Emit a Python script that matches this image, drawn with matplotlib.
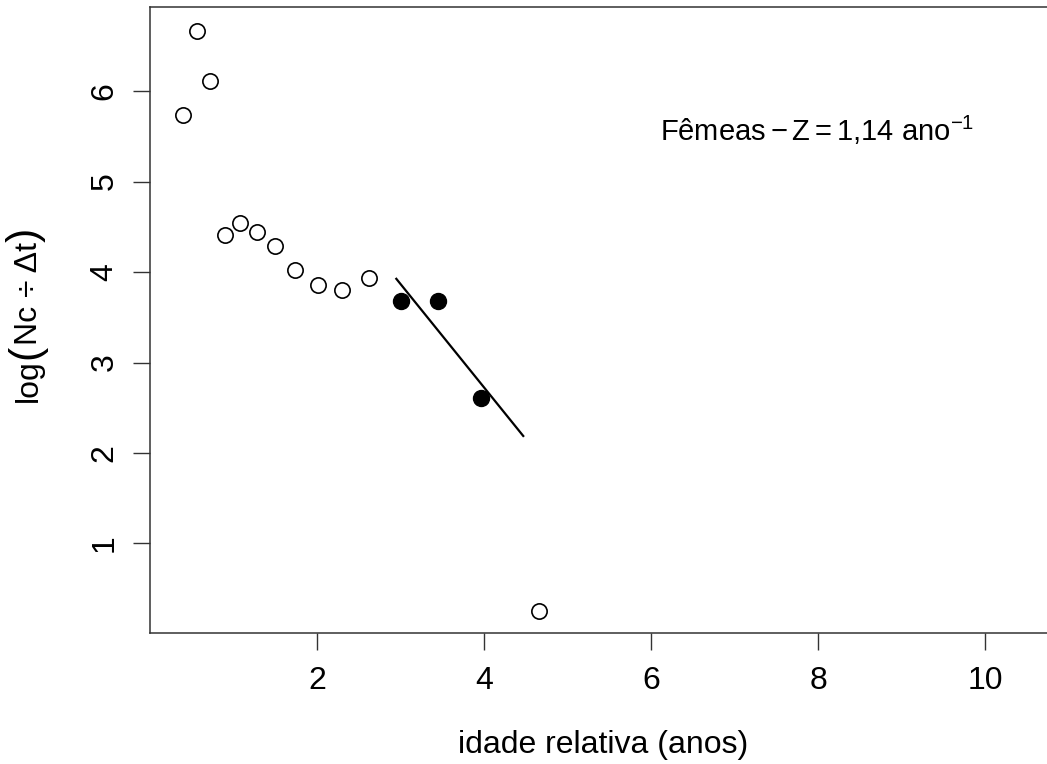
import numpy as np
import matplotlib
matplotlib.use('Agg')
import matplotlib.pyplot as plt

plt.rcParams['font.family'] = ['Liberation Sans', 'DejaVu Sans']
plt.rcParams['mathtext.fontset'] = 'custom'
plt.rcParams['mathtext.rm'] = 'Liberation Sans'
plt.rcParams['mathtext.it'] = 'Liberation Sans:italic'
plt.rcParams['mathtext.bf'] = 'Liberation Sans:bold'

# idade relativa (anos) e log(Nc / dt) - pontos fora da regressao
idade_aberto = [0.40, 0.56, 0.72, 0.90, 1.08, 1.28, 1.50, 1.74, 2.01, 2.30, 2.62, 4.66]
log_aberto = [5.74, 6.67, 6.11, 4.41, 4.54, 4.44, 4.29, 4.02, 3.86, 3.80, 3.93, 0.25]

# pontos usados na curva de captura
idade_cheio = [3.01, 3.45, 3.97]
log_cheio = [3.68, 3.68, 2.61]

# extensao da reta ajustada
reta_x = [2.95, 4.47]

coef = np.polyfit(idade_cheio, log_cheio, 1)
z = -coef[0]
reta_y = np.polyval(coef, reta_x)

W, H = 1047, 764
fig = plt.figure(figsize=(W / 100, H / 100), dpi=100)
# a regiao do grafico passa um pouco da borda direita
ax = fig.add_axes([150 / W, 131 / H, (1057 - 150) / W, 626 / H])

ax.plot(idade_aberto, log_aberto, 'o', mfc='white', mec='black', ms=11, mew=1.2)
ax.plot(idade_cheio, log_cheio, 'o', color='black', ms=11.5)
ax.plot(reta_x, reta_y, color='black', lw=1.6)

ax.text(6.11, 5.57, 'Fêmeas$\\,\\!-\\,\\!$Z$\\,\\!=\\,\\!$' + f'{z:.2f}'.replace('.', ',') + ' ano$^{-1}$',
        fontsize=21, va='center', ha='left')

ax.set_xlim(0.0, (1057 - 150) / 83.5)
ax.set_ylim(0.01, 6.93)
ax.set_xticks([2, 4, 6, 8, 10])
ax.set_yticks([1, 2, 3, 4, 5, 6])
ax.tick_params(direction='out', length=12, width=1, labelsize=23, color='#333333')
ax.tick_params(axis='x', pad=12)
ax.tick_params(axis='y', pad=10)
for lbl in ax.get_yticklabels():
    lbl.set_rotation(90)
    lbl.set_va('center')

for s in ['left', 'bottom', 'top']:
    ax.spines[s].set_linewidth(1.1)
    ax.spines[s].set_color('#333333')
ax.spines['right'].set_visible(False)

ax.set_xlabel('idade relativa (anos)', fontsize=23, labelpad=24)

# rotulo do eixo y: log( Nc ÷ Δt ) com parenteses maiores
fig.canvas.draw()
renderer = fig.canvas.get_renderer()
pecas = [('log', 23), ('(', 31), ('Nc ÷ Δt', 23), (')', 31)]
x_base = 37 / W
y_pix = H - 402
for txt, tam in pecas:
    t = fig.text(x_base, y_pix / H, txt, fontsize=tam, rotation=90,
                 rotation_mode='anchor', ha='left', va='baseline')
    y_pix += t.get_window_extent(renderer).height

fig.savefig('out.png', dpi=100)
